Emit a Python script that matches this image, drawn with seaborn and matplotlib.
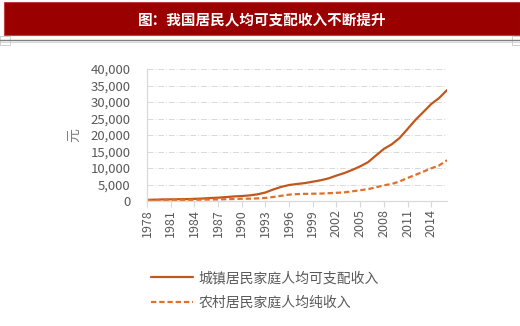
import numpy as np
import pandas as pd
import matplotlib
matplotlib.use("Agg")
import matplotlib.pyplot as plt
import seaborn as sns
from matplotlib.patches import Rectangle
from matplotlib.lines import Line2D

years = list(range(1978, 2017))
urban = [343, 405, 478, 500, 535, 565, 652, 739, 900, 1002,
         1180, 1374, 1510, 1701, 2027, 2577, 3496, 4283, 4839, 5160,
         5425, 5854, 6280, 6860, 7703, 8472, 9422, 10493, 11759, 13786,
         15781, 17175, 19109, 21810, 24565, 26955, 29381, 31195, 33616]
rural = [134, 160, 191, 223, 270, 310, 355, 398, 424, 463,
         545, 602, 686, 709, 784, 922, 1221, 1578, 1926, 2090,
         2162, 2210, 2253, 2366, 2476, 2622, 2936, 3255, 3587, 4140,
         4761, 5153, 5919, 6977, 7917, 8896, 9892, 10772, 12363]
series_names = ["城镇居民家庭人均可支配收入", "农村居民家庭人均纯收入"]
xticks = list(range(1978, 2015, 3))
yticks = list(range(0, 40001, 5000))
title = "图：我国居民人均可支配收入不断提升"
ylabel = "元"

sns.set_style("white")
plt.rcParams["font.family"] = ["Noto Sans CJK SC", "DejaVu Sans"]

W, H = 520, 326
fig = plt.figure(figsize=(W / 100, H / 100), dpi=100)

def fx(px):
    return px / W

def fy(py):
    return 1 - py / H

# title bar
fig.patches.append(Rectangle((fx(4), fy(35)), fx(516), 33 / H, transform=fig.transFigure,
                             facecolor="#9A0000", edgecolor="#C04040", lw=0.8))
fig.text(fx(262), fy(19), title, color="white", fontsize=10.5, fontweight="bold",
         ha="center", va="center")
fig.add_artist(Line2D([0, 1], [fy(40), fy(40)], transform=fig.transFigure, color="#7f7f7f", lw=1.0))
fig.add_artist(Line2D([0, 1], [fy(42), fy(42)], transform=fig.transFigure, color="#d0d0d0", lw=0.6))
# corner marks
for x0, x1 in [(0, 10), (512, 520)]:
    fig.patches.append(Rectangle((fx(x0), fy(45)), fx(x1 - x0), 9 / H, transform=fig.transFigure,
                                 facecolor="none", edgecolor="#c8c8c8", lw=0.6))

ax = fig.add_axes([fx(147), fy(201), fx(300), (201 - 69) / H])

df = pd.DataFrame({"year": years, "urban": urban, "rural": rural})
sns.lineplot(data=df, x="year", y="urban", ax=ax, color="#C0571C", lw=1.6, label=series_names[0])
sns.lineplot(data=df, x="year", y="rural", ax=ax, color="#E0702A", lw=1.6,
             linestyle=(0, (2.4, 1.3)), label=series_names[1])

ax.set_xlim(1978, 2016)
ax.set_ylim(0, 40000)
ax.set_xticks(xticks)
ax.set_xticklabels([str(y) for y in xticks], rotation=90)
ax.set_yticks(yticks)
ax.set_yticklabels([f"{v:,}" for v in yticks])
ax.set_xlabel("")
ax.set_ylabel(ylabel, color="#7f7f7f", fontsize=10, labelpad=7)

ax.grid(axis="y", color="#d9d9d9", lw=0.7, linestyle=(0, (6, 2, 1, 2)))
ax.grid(axis="x", visible=False)
for s in ["top", "right"]:
    ax.spines[s].set_visible(False)
for s in ["left", "bottom"]:
    ax.spines[s].set_color("#d9d9d9")
    ax.spines[s].set_linewidth(0.9)
ax.tick_params(axis="x", colors="#595959", labelsize=9, length=4, width=0.8, color="#d9d9d9",
               direction="out", bottom=True, pad=2)
ax.tick_params(axis="y", colors="#595959", labelsize=9.5, length=0, pad=12)

ax.legend_.remove()
handles, labels = ax.get_legend_handles_labels()
fig.legend(handles, labels, loc="upper left", bbox_to_anchor=(fx(151), fy(271)),
           frameon=False, fontsize=10, handlelength=3.0, handletextpad=0.4,
           labelspacing=0.75, borderpad=0, borderaxespad=0, labelcolor="#595959")

fig.savefig("out.png", dpi=100, facecolor="white")
